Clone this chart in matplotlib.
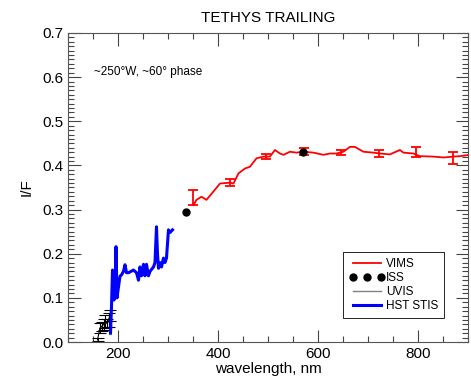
import numpy as np
import matplotlib
matplotlib.use("Agg")
import matplotlib.pyplot as plt
from matplotlib.ticker import MultipleLocator

plt.rcParams['font.family'] = ['Liberation Sans', 'DejaVu Sans']

# VIMS spectrum (red line)
vims_wl = [351, 357, 367, 377, 391, 404, 424, 431, 441, 454, 464, 477, 491, 504,
           514, 524, 531, 544, 557, 571, 591, 611, 624, 637, 651, 664, 674, 691,
           711, 724, 744, 764, 771, 791, 804, 831, 851, 871, 884, 904]
vims_if = [0.310, 0.322, 0.329, 0.322, 0.341, 0.359, 0.361, 0.359, 0.382, 0.393,
           0.397, 0.416, 0.420, 0.420, 0.435, 0.427, 0.424, 0.431, 0.429, 0.431,
           0.429, 0.424, 0.427, 0.427, 0.431, 0.442, 0.442, 0.431, 0.429, 0.427,
           0.425, 0.435, 0.429, 0.427, 0.421, 0.420, 0.418, 0.420, 0.421, 0.424]
# VIMS error bars
err_wl = [351, 425, 497, 573, 647, 723, 796, 871]
err_lo = [0.310, 0.353, 0.414, 0.424, 0.424, 0.418, 0.418, 0.403]
err_hi = [0.345, 0.369, 0.425, 0.439, 0.435, 0.435, 0.442, 0.431]

# ISS points
iss_wl = [337, 571]
iss_if = [0.294, 0.431]

# UVIS points
uvis_wl = [159, 164, 168, 171, 174, 178, 181, 184]
uvis_if = [0.005, 0.032, 0.036, 0.040, 0.046, 0.043, 0.050, 0.060]
uvis_err = [0.003, 0.012, 0.010, 0.012, 0.015, 0.010, 0.015, 0.012]

# HST STIS spectrum
stis_wl = [185, 187, 189, 190, 191, 192, 193, 194, 196, 198, 201, 204, 207, 211,
           214, 217, 221, 231, 237, 241, 244, 247, 251, 254, 257, 261, 264, 271,
           274, 277, 279, 281, 284, 287, 291, 294, 297, 301, 304, 309]
stis_if = [0.020, 0.080, 0.163, 0.100, 0.160, 0.095, 0.150, 0.110, 0.216, 0.100,
           0.125, 0.149, 0.152, 0.160, 0.175, 0.157, 0.157, 0.163, 0.157, 0.140,
           0.170, 0.150, 0.176, 0.150, 0.176, 0.150, 0.160, 0.170, 0.180, 0.261,
           0.200, 0.167, 0.180, 0.170, 0.190, 0.180, 0.190, 0.254, 0.248, 0.254]

fig = plt.figure(figsize=(4.71, 3.89), dpi=100)
ax = fig.add_axes([0.1444, 0.1208, 0.849, 0.7944])

ax.plot(vims_wl, vims_if, color='red', lw=1.3, label='VIMS')
ax.errorbar(err_wl, [(a + b) / 2 for a, b in zip(err_lo, err_hi)],
            yerr=[(b - a) / 2 for a, b in zip(err_lo, err_hi)],
            fmt='none', ecolor='red', elinewidth=1.3, capsize=3.5, capthick=1.3)
ax.plot(iss_wl, iss_if, 'o', color='black', ms=5, label='ISS')
ax.errorbar(uvis_wl, uvis_if, yerr=uvis_err, color='black', lw=0.8,
            capsize=4, elinewidth=0.8, capthick=0.8)
ax.plot([], [], color='gray', lw=1.0, label='UVIS')
ax.plot(stis_wl, stis_if, color='blue', lw=2.2, label='HST STIS')

ax.set_xlim(100, 900)
ax.set_ylim(0, 0.7)
ax.xaxis.set_major_locator(MultipleLocator(200))
ax.xaxis.set_minor_locator(MultipleLocator(50))
ax.yaxis.set_major_locator(MultipleLocator(0.1))
ax.yaxis.set_minor_locator(MultipleLocator(0.01))
ax.yaxis.set_major_formatter(matplotlib.ticker.FormatStrFormatter('%.1f'))
ax.tick_params(which='both', direction='in', top=True, right=True,
               labelsize=11, color='#444444')
ax.tick_params(which='major', length=9, width=0.8)
ax.tick_params(which='minor', length=4.5, width=0.8)
for s in ax.spines.values():
    s.set_color('#555555')

ax.set_xlabel('wavelength, nm', fontsize=11, labelpad=1)
ax.set_ylabel('I/F', fontsize=11, labelpad=6)
ax.set_title('TETHYS TRAILING', fontsize=11, pad=8)
ax.text(0.065, 0.865, '~250°W, ~60° phase', transform=ax.transAxes, fontsize=8.5)

leg = ax.legend(loc='lower right', bbox_to_anchor=(0.955, 0.06), fontsize=8.5,
                numpoints=3, handlelength=3.0, handletextpad=0.1,
                labelspacing=0.15, borderpad=0.5, fancybox=False,
                framealpha=1, edgecolor='black')
leg.get_frame().set_linewidth(0.6)

fig.savefig('out.png', dpi=100)
